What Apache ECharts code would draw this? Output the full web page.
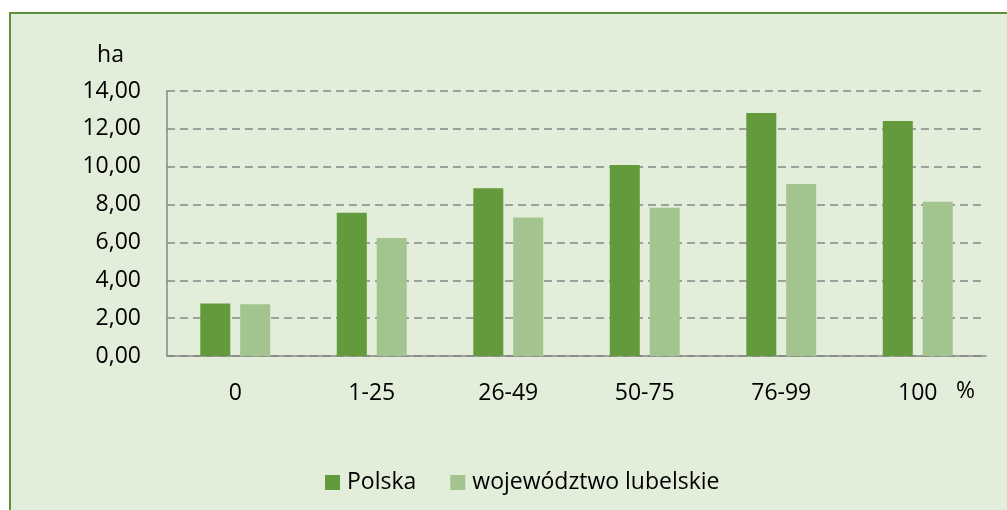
<!DOCTYPE html>
<html>
<head>
<meta charset="utf-8">
<script src="https://cdn.jsdelivr.net/npm/echarts@6/dist/echarts.min.js"></script>
<style>
    html, body { margin: 0; padding: 0; background: #ffffff; }
    #main { width: 1007px; height: 510px; }
</style>
</head>
<body>
<div id="main"></div>
<script>
let categories = ['0', '1-25', '26-49', '50-75', '76-99', '100'];
let polska = [2.78, 7.57, 8.86, 10.09, 12.84, 12.41];
let lubelskie = [2.73, 6.23, 7.32, 7.83, 9.09, 8.15];
let seriesNames = ['Polska', 'województwo lubelskie'];

window.addEventListener('load', function () {
    let chart = echarts.init(document.getElementById('main'));
    let font = '"Open Sans", sans-serif';
    let option = {
        backgroundColor: '#ffffff',
        textStyle: { fontFamily: font, color: '#000000' },
        graphic: [
            {
                type: 'rect',
                z: -10,
                shape: { x: 10, y: 13, width: 1010, height: 510 },
                style: { fill: '#e2eed9', stroke: '#5f913a', lineWidth: 2 }
            },
            {
                type: 'text',
                left: 956, top: 380,
                style: { text: '%', fontSize: 23, fontFamily: font, fill: '#000000' }
            }
        ],
        grid: { left: 167, right: 21, top: 91, bottom: 154 },
        legend: {
            data: seriesNames,
            left: 320, top: 466,
            itemWidth: 15, itemHeight: 15, itemGap: 34,
            icon: 'rect',
            textStyle: { fontSize: 23, fontFamily: font, color: '#000000', padding: [0, 0, 0, 2] }
        },
        xAxis: {
            type: 'category',
            data: categories,
            axisLine: { lineStyle: { color: '#868686', width: 1.5 } },
            axisTick: { show: false },
            axisLabel: { fontSize: 23, color: '#000000', margin: 26 }
        },
        yAxis: {
            type: 'value',
            min: 0, max: 14, interval: 2,
            name: 'ha',
            nameLocation: 'end',
            nameGap: 24,
            nameTextStyle: { fontSize: 23, color: '#000000', align: 'right', padding: [0, 43, 0, 0] },
            axisLine: { show: true, lineStyle: { color: '#868686', width: 1.5 } },
            axisTick: { show: false },
            axisLabel: {
                fontSize: 23, color: '#000000', margin: 26,
                formatter: function (v) { return v.toFixed(2).replace('.', ','); }
            },
            splitLine: { lineStyle: { color: '#868686', width: 1.5, type: [8, 5] } }
        },
        series: [
            {
                name: seriesNames[0],
                type: 'bar',
                data: polska,
                barWidth: 30,
                barGap: '33%',
                itemStyle: { color: '#629a3c' }
            },
            {
                name: seriesNames[1],
                type: 'bar',
                data: lubelskie,
                barWidth: 30,
                itemStyle: { color: '#a3c48f' }
            }
        ]
    };
    chart.setOption(option);
}, false);
</script>
</body>
</html>
